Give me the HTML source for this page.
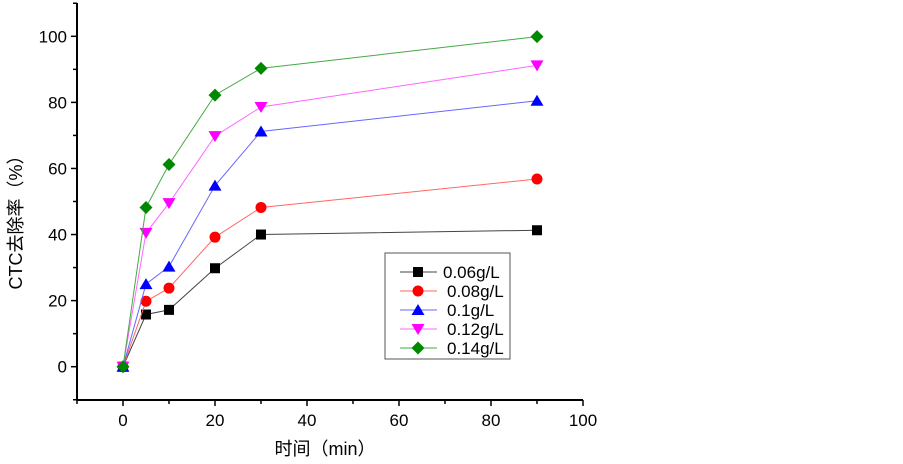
<!DOCTYPE html>
<html><head><meta charset="utf-8"><style>
body{margin:0;background:#fff}
svg text{font-family:"Liberation Sans","Noto Sans CJK SC",sans-serif;fill:#000}
</style></head><body>
<svg id="c" width="903" height="459"></svg>
<script>
const xVals=[0,5,10,20,30,90];
const seriesNames=["0.06g/L","0.08g/L","0.1g/L","0.12g/L","0.14g/L"];
const s006=[0,15.8,17.2,29.8,40,41.3];
const s008=[0,19.8,23.8,39.2,48.2,56.8];
const s010=[0,25,30.3,54.8,71.2,80.5];
const s012=[0,40.5,49.5,69.8,78.6,91.2];
const s014=[0,48.2,61.2,82.2,90.3,99.9];
const xTicks=[0,20,40,60,80,100];
const yTicks=[0,20,40,60,80,100];
const svg=document.getElementById('c');const NS='http://www.w3.org/2000/svg';
const X=v=>123+(v)*4.6, Y=v=>366.7-v*3.304;
function el(t,a,p){const e=document.createElementNS(NS,t);for(const k in a)e.setAttribute(k,a[k]);(p||svg).appendChild(e);return e;}
const colors=['#000','#f00','#00f','#f0f','#080'];
const lineCols=['#444','#f66','#66f','#f6f','#4a4'];
const data=[s006,s008,s010,s012,s014];
let ax=el('line',{x1:77,y1:400,x2:583,y2:400,stroke:'#000','stroke-width':2});

let ay=el('line',{x1:77,y1:3,x2:77,y2:400,stroke:'#000','stroke-width':2});

for(let v=-10;v<=100;v+=10){el('line',{x1:X(v),y1:400,x2:X(v),y2:v%20==0?406:404,stroke:'#000','stroke-width':1.5});}
for(let v=-10;v<=110;v+=10){el('line',{x1:77,y1:Y(v),x2:v%20==0?71:73,y2:Y(v),stroke:'#000','stroke-width':1.5});}
xTicks.forEach(v=>{const t=el('text',{x:X(v),y:426,'text-anchor':'middle','font-size':17});t.textContent=v;
});
yTicks.forEach(v=>{const t=el('text',{x:67,y:Y(v)+6,'text-anchor':'end','font-size':17});t.textContent=v;
});
let xt=el('text',{x:325,y:455,'text-anchor':'middle','font-size':18});xt.textContent='时间（min）';

let yt=el('text',{x:0,y:0,'text-anchor':'middle','font-size':18,transform:'translate(22,218) rotate(-90)'});yt.textContent='CTC去除率（%）';

function marker(i,cx,cy,g){const c=colors[i];
 if(i==0)return el('rect',{x:cx-5,y:cy-5,width:10,height:10,fill:c},g);
 if(i==1)return el('circle',{cx,cy,r:5.5,fill:c},g);
 if(i==2)return el('polygon',{points:`${cx},${cy-6} ${cx+6.5},${cy+5} ${cx-6.5},${cy+5}`,fill:c},g);
 if(i==3)return el('polygon',{points:`${cx},${cy+6} ${cx+6.5},${cy-5} ${cx-6.5},${cy-5}`,fill:c},g);
 return el('polygon',{points:`${cx},${cy-6.5} ${cx+6.5},${cy} ${cx},${cy+6.5} ${cx-6.5},${cy}`,fill:c},g);}
data.forEach((d,i)=>{const g=el('g',{});
 
 
 el('polyline',{points:d.map((v,j)=>X(xVals[j])+','+Y(v)).join(' '),fill:'none',stroke:lineCols[i],'stroke-width':1},g);
 d.forEach((v,j)=>{const m=marker(i,X(xVals[j]),Y(v),g);});
});
const lg=el('g',{});
el('rect',{x:385,y:253,width:125,height:106,fill:'#fff',stroke:'#555','stroke-width':1},lg);
seriesNames.forEach((n,i)=>{const y=272+i*19;const e=el('g',{},lg);
 
 el('line',{x1:400,y1:y,x2:437,y2:y,stroke:lineCols[i]},e);marker(i,418,y,e);
 const t=el('text',{x:i==0?443:447,y:y+6,'font-size':17},e);t.textContent=n;});
</script>
</body></html>
